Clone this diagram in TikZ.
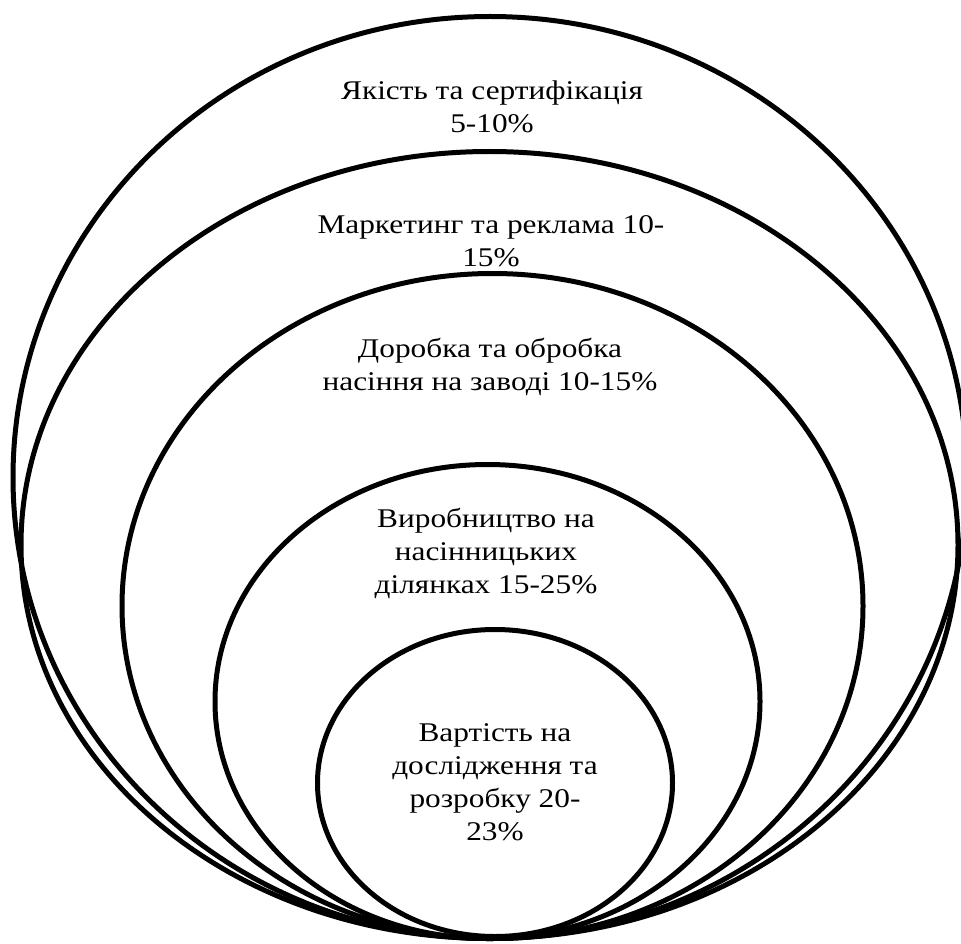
\documentclass[tikz,border=0pt]{standalone}
\usepackage{fontspec}
\setmainfont{Liberation Serif}[FakeStretch=1.16]
\begin{document}
\begin{tikzpicture}[x=1pt,y=-1pt,
  ring/.style={line width=5pt},
  tag/.style={align=center, inner sep=0pt, font=\fontsize{27}{33}\selectfont}]
\useasboundingbox (0,0) rectangle (961,944);
\clip (0,0) rectangle (961,944);
% nested cost layers, all resting on the same bottom point
\draw[ring] (490,477.5) ellipse [x radius=477, y radius=461];
\draw[ring] (489.5,545) ellipse [x radius=468.5, y radius=393.5];
\draw[ring] (492.5,606) ellipse [x radius=370.5, y radius=332.5];
\draw[ring] (487.5,701.5) ellipse [x radius=272.5, y radius=237];
\draw[ring] (495,783) ellipse [x radius=177.5, y radius=153.5];
% layer captions
\node[tag] (quality) at (492,107) {Якість та сертифікація\\5-10\%};
\node[tag] (marketing) at (491,241) {Маркетинг та реклама 10-\\15\%};
\node[tag] (processing) at (490,367) {Доробка та обробка\\насіння на заводі 10-15\%};
\node[tag] (production) at (486,553) {Виробництво на\\насінницьких\\ділянках 15-25\%};
\node[tag] (research) at (495,782) {Вартість на\\дослідження та\\розробку 20-\\23\%};
\end{tikzpicture}
\end{document}
